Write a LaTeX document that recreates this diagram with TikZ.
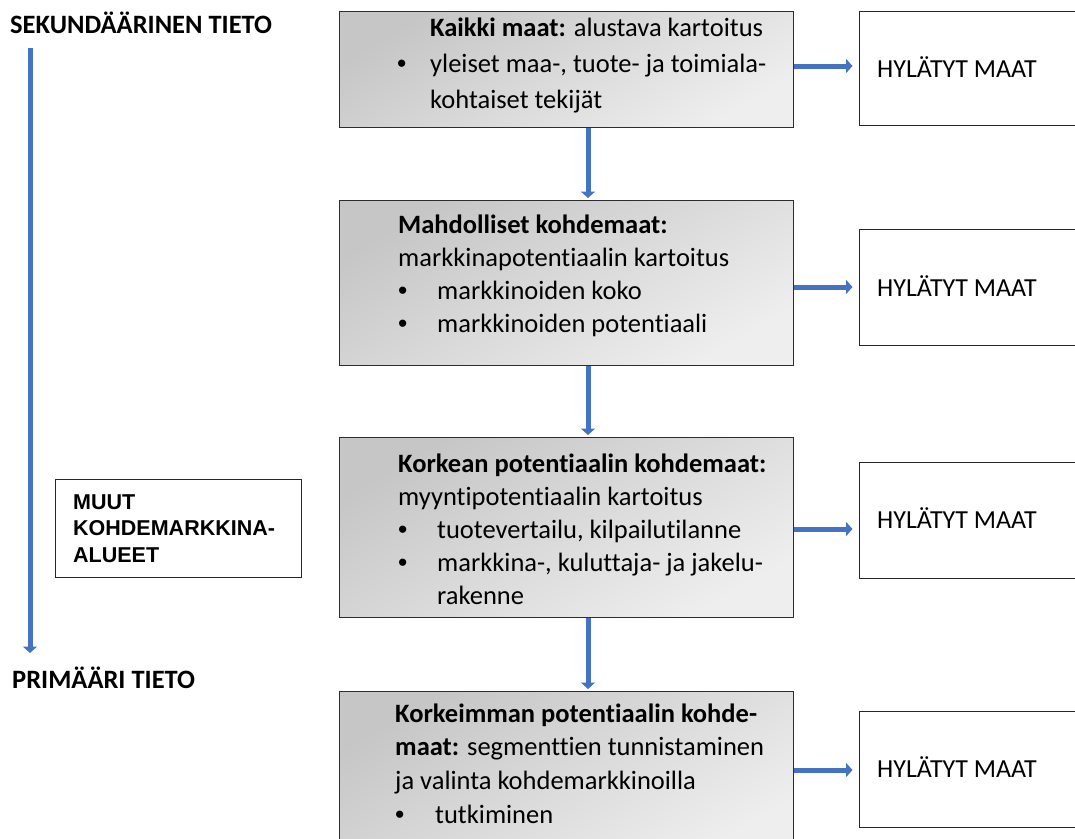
\documentclass[tikz,border=0pt]{standalone}
\usepackage{fontspec}
\setmainfont{Carlito}[Ligatures=NoCommon]
\newfontfamily\arialfont{Liberation Sans}
\usetikzlibrary{arrows.meta}

\definecolor{flowblue}{RGB}{68,114,196}
\definecolor{shadedark}{RGB}{198,198,198}
\definecolor{shadelight}{RGB}{238,238,238}
\definecolor{edgegray}{RGB}{45,45,45}

% bullet of fixed width, followed by the item text
\newcommand{\itm}[1]{\makebox[#1][l]{{\arialfont\textbullet}}}

\tikzset{
  stage/.style={draw=edgegray, line width=1.3pt, top color=shadedark,
    bottom color=shadelight, shading angle=30, minimum width=454pt,
    inner sep=0pt, anchor=north west},
  stagetext/.style={anchor=base west, inner sep=0pt, align=left},
  reject/.style={draw=black!85, line width=1.3pt, fill=white,
    minimum width=240pt, inner sep=0pt, anchor=north west},
  rejtext/.style={anchor=base west, inner sep=0pt,
    font=\fontsize{26}{31}\selectfont},
  sidebox/.style={draw=black!85, line width=1.2pt, fill=white,
    minimum width=246pt, minimum height=98pt, inner sep=0pt, anchor=north west},
  flow/.style={draw=flowblue, line width=5pt,
    -{Triangle[length=6.5pt,width=14pt]}},
}

\begin{document}
\begin{tikzpicture}[x=1pt, y=-1pt]
\clip (0,0) rectangle (1075,838);
\fill[white] (0,0) rectangle (1075,838);

% stages of the selection funnel
\node[stage, minimum height=116pt] (b1) at (339,11) {};
\node[stage, minimum height=165pt] (b2) at (339,200) {};
\node[stage, minimum height=180pt] (b3) at (339,437) {};
\node[stage, minimum height=165pt] (b4) at (339,691) {};

\node[stagetext] (t1) at (397,36) {\parbox[t]{420pt}{\fontsize{26.5}{36}\selectfont
  \hspace*{33pt}\textbf{Kaikki maat:} alustava kartoitus\\
  \itm{33pt}yleiset maa-, tuote- ja toimiala-\\
  \hspace*{33pt}kohtaiset tekijät}};

\node[stagetext] (t2) at (398,233) {\parbox[t]{420pt}{\fontsize{26.5}{33.3}\selectfont
  \textbf{Mahdolliset kohdemaat:}\\
  markkinapotentiaalin kartoitus\\
  \itm{39pt}markkinoiden koko\\
  \itm{39pt}markkinoiden potentiaali}};

\node[stagetext] (t3) at (398,472) {\parbox[t]{420pt}{\fontsize{26.5}{33}\selectfont
  \textbf{Korkean potentiaalin kohdemaat:}\\
  myyntipotentiaalin kartoitus\\
  \itm{39pt}tuotevertailu, kilpailutilanne\\
  \itm{39pt}markkina-, kuluttaja- ja jakelu-\\
  \hspace*{39pt}rakenne}};

\node[stagetext] (t4) at (395,722) {\parbox[t]{420pt}{\fontsize{26.5}{33.7}\selectfont
  \textbf{Korkeimman potentiaalin kohde-}\\
  \textbf{maat:} segmenttien tunnistaminen\\
  ja valinta kohdemarkkinoilla\\
  \itm{40pt}tutkiminen}};

% rejected countries
\node[reject, minimum height=114pt] (r1) at (859,11) {};
\node[reject, minimum height=116pt] (r2) at (859,229) {};
\node[reject, minimum height=116pt] (r3) at (859,462) {};
\node[reject, minimum height=116pt] (r4) at (859,711) {};
\node[rejtext] (h1) at (877,77) {HYLÄTYT MAAT};
\node[rejtext] (h2) at (877,296) {HYLÄTYT MAAT};
\node[rejtext] (h3) at (877,528) {HYLÄTYT MAAT};
\node[rejtext] (h4) at (877,777) {HYLÄTYT MAAT};

% downward flow between stages
\coordinate (vx) at (588,0);
\draw[flow, shorten >=2pt] (b1.south -| vx) -- (b2.north -| vx);
\draw[flow, shorten >=2pt] (b2.south -| vx) -- (b3.north -| vx);
\draw[flow, shorten >=2pt] (b3.south -| vx) -- (b4.north -| vx);

% side arrows to the rejected countries
\coordinate (y1) at (0,66);
\coordinate (y2) at (0,287);
\coordinate (y3) at (0,529);
\coordinate (y4) at (0,770);
\draw[flow, shorten >=6.5pt] (b1.east |- y1) -- (r1.west |- y1);
\draw[flow, shorten >=6.5pt] (b2.east |- y2) -- (r2.west |- y2);
\draw[flow, shorten >=6.5pt] (b3.east |- y3) -- (r3.west |- y3);
\draw[flow, shorten >=6.5pt] (b4.east |- y4) -- (r4.west |- y4);

% information axis on the left
\node[anchor=base west, inner sep=0pt, font=\fontsize{26.5}{31}\selectfont\bfseries]
  (sek) at (10,33) {SEKUNDÄÄRINEN TIETO};
\node[anchor=base west, inner sep=0pt, font=\fontsize{26.5}{31}\selectfont\bfseries]
  (prim) at (12,688) {PRIMÄÄRI TIETO};
\coordinate (axtop) at (30,48);
\coordinate (axbot) at (30,653);
\draw[flow] (axtop) -- (axbot);

\node[sidebox] (muut) at (55,479) {};
\node[anchor=base west, inner sep=0pt] (muutt) at (73,509) {\parbox[t]{220pt}{%
  \arialfont\bfseries\fontsize{21.5}{26.5}\selectfont
  MUUT\\KOHDEMARKKINA-\\ALUEET}};
\end{tikzpicture}
\end{document}
